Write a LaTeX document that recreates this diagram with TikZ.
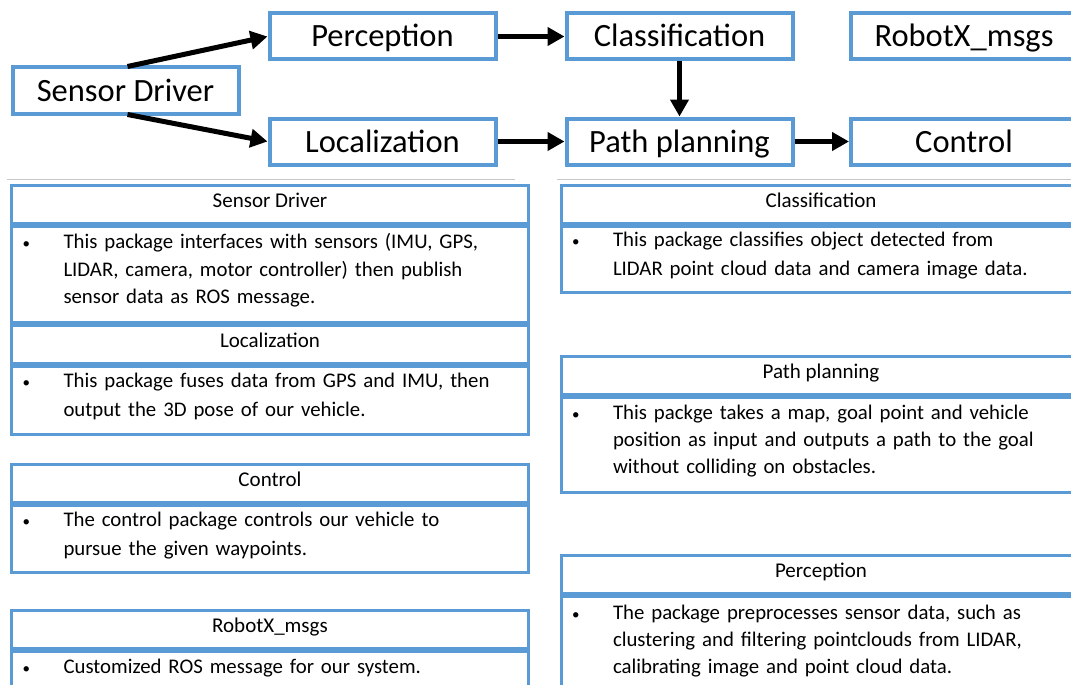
\documentclass[tikz,border=0pt]{standalone}
\usepackage{fontspec}
\setmainfont{Carlito}
\usetikzlibrary{arrows.meta}
\definecolor{boxblue}{HTML}{5B9BD5}
\tikzset{
  pkg/.style={draw=boxblue, line width=4pt, fill=white, minimum width=226pt, minimum height=46pt, inner sep=0pt, text height=22pt, text depth=1pt, font=\fontsize{32.5}{36}\selectfont},
  flow/.style={line width=5pt, -{Triangle[length=17pt,width=18pt]}},
  hdr/.style={draw=boxblue, line width=3pt, minimum height=38pt, inner sep=0pt, text height=14pt, text depth=8pt, anchor=north, font=\fontsize{21}{25}\selectfont},
  bodybox/.style={draw=boxblue, line width=3pt, inner xsep=10pt, inner ysep=0pt, anchor=north, align=left, font=\fontsize{20.8}{27}\selectfont},
  sep/.style={draw=black!22, line width=1pt}
}
\newcommand{\bul}{\rule[-12pt]{0pt}{28pt}\makebox[42pt][l]{\hspace*{1pt}{\fontsize{15}{15}\selectfont\textbullet}}}
\newcommand{\ind}{\hspace*{42pt}}
\newcommand{\fin}{\rule[-12pt]{0pt}{28pt}}
\begin{document}
\begin{tikzpicture}[x=1pt,y=-1pt]
\useasboundingbox (0,0) rectangle (1071,685);
\clip (0,0) rectangle (1071,685);
\fill[white] (0,0) rectangle (1071,685);
% flow boxes
\node[pkg] (sd) at (125.5,90.5) {Sensor Driver};
\node[pkg] (per) at (382.5,36.5) {Perception};
\node[pkg] (loc) at (382.5,141.5) {Localization};
\node[pkg] (cls) at (679.5,36.5) {Classification};
\node[pkg] (pp) at (679.5,141.5) {Path planning};
\node[pkg] (msg) at (964,36.5) {RobotX\_msgs};
\node[pkg] (ctl) at (964,141.5) {Control};
\draw[flow] ([xshift=2pt,yshift=-1pt]sd.north) -- (per.west);
\draw[flow] ([xshift=2pt,yshift=1pt]sd.south) -- (loc.west);
\draw[flow] (per.east) -- (cls.west);
\draw[flow] (loc.east) -- (pp.west);
\draw[flow] (cls.south) -- (pp.north);
\draw[flow] (pp.east) -- (ctl.west);
% separator
\coordinate (s1) at (7,179); \coordinate (s2) at (515,179);
\coordinate (s3) at (557,179); \coordinate (s4) at (1071,179);
\draw[sep] (s1) -- (s2);
\draw[sep] (s3) -- (s4);
% left tables
\node[hdr, minimum width=517pt] (t1h) at (270,183.5) {Sensor Driver};
\node[bodybox, text width=497pt, minimum height=96pt] (t1b) at (t1h.south) {\bul This package interfaces with sensors (IMU, GPS,\\ \ind LIDAR, camera, motor controller) then publish\\ \ind sensor data as ROS message.\fin};
\node[hdr, minimum width=517pt] (t2h) at (270,323.5) {Localization};
\node[bodybox, text width=497pt, minimum height=68pt] (t2b) at (t2h.south) {\bul This package fuses data from GPS and IMU, then\\ \ind output the 3D pose of our vehicle.\fin};
\node[hdr, minimum width=517pt] (t3h) at (270,462.5) {Control};
\node[bodybox, text width=497pt, minimum height=67pt] (t3b) at (t3h.south) {\bul The control package controls our vehicle to\\ \ind pursue the given waypoints.\fin};
\node[hdr, minimum width=517pt] (t4h) at (270,608.5) {RobotX\_msgs};
\node[bodybox, text width=497pt, minimum height=40pt] (t4b) at (t4h.south) {\bul Customized ROS message for our system.\fin};
% right tables
\node[hdr, minimum width=520pt] (t5h) at (821,183.5) {Classification};
\node[bodybox, text width=500pt, minimum height=66pt] (t5b) at (t5h.south) {\bul This package classifies object detected from\\ \ind LIDAR point cloud data and camera image data.\fin};
\node[hdr, minimum width=520pt] (t6h) at (821,354.5) {Path planning};
\node[bodybox, text width=500pt, minimum height=95pt] (t6b) at (t6h.south) {\bul This packge takes a map, goal point and vehicle\\ \ind position as input and outputs a path to the goal\\ \ind without colliding on obstacles.\fin};
\node[hdr, minimum width=520pt] (t7h) at (821,553.5) {Perception};
\node[bodybox, text width=500pt, minimum height=96pt] (t7b) at (t7h.south) {\bul The package preprocesses sensor data, such as\\ \ind clustering and filtering pointclouds from LIDAR,\\ \ind calibrating image and point cloud data.\fin};
\end{tikzpicture}
\end{document}
